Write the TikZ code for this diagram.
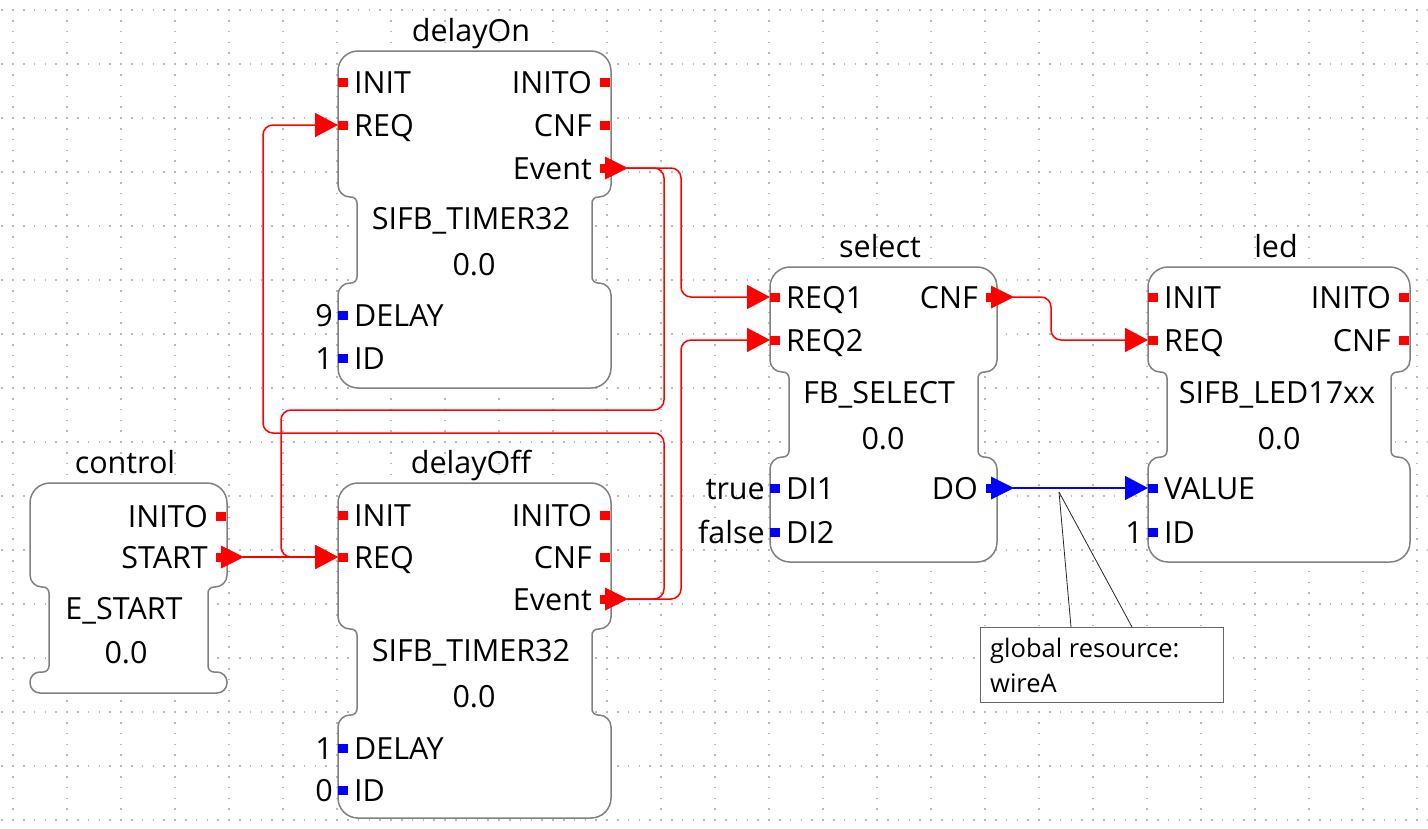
\documentclass[tikz,border=0pt]{standalone}
\usepackage{fontspec}
\setmainfont{Open Sans}
\usetikzlibrary{arrows.meta,calc}
\tikzset{
  fbbox/.style={draw=black!50, line width=1.5pt, fill=white},
  portsq/.style={rectangle, inner sep=0pt, minimum width=10pt, minimum height=9pt, draw=none},
  lbl/.style={inner sep=0pt, text=black, font=\fontsize{30.5}{36}\selectfont},
  notefont/.style={inner sep=0pt, text=black, font=\fontsize{25.5}{30}\selectfont},
  wire/.style={line width=1.5pt, rounded corners=10pt, -{Triangle[length=23pt,width=24pt]}},
  evwire/.style={wire, draw=red},
  datawire/.style={wire, draw=blue},
  griddot/.style={draw=black!28, line width=1.6pt, dash pattern=on 1.6pt off 9.2pt},
  notebox/.style={draw=black!60, line width=1.2pt, fill=white, inner sep=0pt, rectangle},
  pointer/.style={draw=black!85, line width=0.8pt},
}
% L R T Ub Lt B bottomradius lowerconvexradius
\newcommand{\fbblock}[8]{%
  \pgfmathsetmacro\fbL{#1}\pgfmathsetmacro\fbR{#2}\pgfmathsetmacro\fbT{#3}%
  \pgfmathsetmacro\fbU{#4}\pgfmathsetmacro\fbV{#5}\pgfmathsetmacro\fbB{#6}%
  \pgfmathsetmacro\fbb{#7}\pgfmathsetmacro\fbl{#8}%
  \pgfmathsetmacro\fbLn{#1+19}\pgfmathsetmacro\fbRn{#2-19}%
  \draw[fbbox] (\fbLn,{(\fbU+\fbV)/2})
    -- (\fbLn,{\fbU+6}) .. controls (\fbLn,{\fbU+6*0.448}) and ({\fbLn-6*0.448},\fbU) .. ({\fbLn-6},\fbU)
    -- ({\fbL+12},\fbU) .. controls ({\fbL+12*0.448},\fbU) and (\fbL,{\fbU-12*0.448}) .. (\fbL,{\fbU-12})
    -- (\fbL,{\fbT+20}) .. controls (\fbL,{\fbT+20*0.448}) and ({\fbL+20*0.448},\fbT) .. ({\fbL+20},\fbT)
    -- ({\fbR-20},\fbT) .. controls ({\fbR-20*0.448},\fbT) and (\fbR,{\fbT+20*0.448}) .. (\fbR,{\fbT+20})
    -- (\fbR,{\fbU-12}) .. controls (\fbR,{\fbU-12*0.448}) and ({\fbR-12*0.448},\fbU) .. ({\fbR-12},\fbU)
    -- ({\fbRn+6},\fbU) .. controls ({\fbRn+6*0.448},\fbU) and (\fbRn,{\fbU+6*0.448}) .. (\fbRn,{\fbU+6})
    -- (\fbRn,{\fbV-6}) .. controls (\fbRn,{\fbV-6*0.448}) and ({\fbRn+6*0.448},\fbV) .. ({\fbRn+6},\fbV)
    -- ({\fbR-\fbl},\fbV) .. controls ({\fbR-\fbl*0.448},\fbV) and (\fbR,{\fbV+\fbl*0.448}) .. (\fbR,{\fbV+\fbl})
    -- (\fbR,{\fbB-\fbb}) .. controls (\fbR,{\fbB-\fbb*0.448}) and ({\fbR-\fbb*0.448},\fbB) .. ({\fbR-\fbb},\fbB)
    -- ({\fbL+\fbb},\fbB) .. controls ({\fbL+\fbb*0.448},\fbB) and (\fbL,{\fbB-\fbb*0.448}) .. (\fbL,{\fbB-\fbb})
    -- (\fbL,{\fbV+\fbl}) .. controls (\fbL,{\fbV+\fbl*0.448}) and ({\fbL+\fbl*0.448},\fbV) .. ({\fbL+\fbl},\fbV)
    -- ({\fbLn-6},\fbV) .. controls ({\fbLn-6*0.448},\fbV) and (\fbLn,{\fbV-6*0.448}) .. (\fbLn,{\fbV-6})
    -- cycle;
}
% prefix, port name, L, y, colour
\newcommand{\fbin}[5]{%
  \node[portsq, fill=#5, anchor=west] (#1-#2) at (#3,#4) {};
  \node[lbl, anchor=base west] (#1-#2-l) at ({#3+16},{#4+11}) {#2};
}
\newcommand{\fbout}[5]{%
  \node[portsq, fill=#5, anchor=east] (#1-#2) at ({#3-1},#4) {};
  \node[lbl, anchor=base east] (#1-#2-l) at ({#3-19},{#4+11}) {#2};
}
% port node, colour
\newcommand{\fbarr}[2]{%
  \fill[#2] ($(#1.east)+(-5,-11.5)$) -- ++(23,11.5) -- ++(-23,11.5) -- cycle;
  \coordinate (#1-t) at ($(#1.east)+(17,0)$);
}
% name, value, L, y
\newcommand{\fbval}[4]{%
  \node[lbl, anchor=base east] (#1-v) at ({#3-5},{#4+11}) {#2};
}
\begin{document}
\begin{tikzpicture}[x=1pt,y=-1pt]
\useasboundingbox (0,0) rectangle (1428,828);
\fill[white] (0,0) rectangle (1428,828);
% grid
\foreach \i in {0,...,26} { \draw[griddot] ({13+54*\i},-1.6) -- ({13+54*\i},830); }
\foreach \j in {0,...,15} { \draw[griddot] (1.4,{10+54*\j}) -- (1430,{10+54*\j}); }

% blocks
\fbblock{338}{611}{51}{197}{283}{388}{20}{12}
\fbblock{338}{611}{483}{629}{715}{818}{20}{12}
\fbblock{30}{227}{483}{587}{672}{693}{10}{10}
\fbblock{770}{997}{267}{372}{457}{562}{20}{12}
\fbblock{1148}{1410}{267}{372}{457}{562}{20}{12}

% names, types, versions
\node[lbl, anchor=base] (dOn-name) at (471,41) {delayOn};
\node[lbl, anchor=base] (dOn-type) at (471,229) {SIFB\_TIMER32};
\node[lbl, anchor=base] (dOn-ver) at (474,275) {0.0};
\node[lbl, anchor=base] (dOff-name) at (471,473) {delayOff};
\node[lbl, anchor=base] (dOff-type) at (471,661) {SIFB\_TIMER32};
\node[lbl, anchor=base] (dOff-ver) at (474,707) {0.0};
\node[lbl, anchor=base] (ctrl-name) at (125,473) {control};
\node[lbl, anchor=base] (ctrl-type) at (124,619) {E\_START};
\node[lbl, anchor=base] (ctrl-ver) at (126,663) {0.0};
\node[lbl, anchor=base] (sel-name) at (880,257) {select};
\node[lbl, anchor=base] (sel-type) at (879,403) {FB\_SELECT};
\node[lbl, anchor=base] (sel-ver) at (883,449) {0.0};
\node[lbl, anchor=base] (led-name) at (1276,257) {led};
\node[lbl, anchor=base] (led-type) at (1277,403) {SIFB\_LED17xx};
\node[lbl, anchor=base] (led-ver) at (1279,449) {0.0};

% ports delayOn
\fbin{dOn}{INIT}{338}{82}{red}
\fbin{dOn}{REQ}{338}{125}{red}
\fbout{dOn}{INITO}{611}{82}{red}
\fbout{dOn}{CNF}{611}{125}{red}
\fbout{dOn}{Event}{611}{168}{red}
\fbin{dOn}{DELAY}{338}{315}{blue}
\fbin{dOn}{ID}{338}{358}{blue}
\fbval{dOn-DELAY}{9}{338}{315}
\fbval{dOn-ID}{1}{338}{358}
% ports delayOff
\fbin{dOff}{INIT}{338}{515}{red}
\fbin{dOff}{REQ}{338}{557}{red}
\fbout{dOff}{INITO}{611}{515}{red}
\fbout{dOff}{CNF}{611}{557}{red}
\fbout{dOff}{Event}{611}{599}{red}
\fbin{dOff}{DELAY}{338}{748}{blue}
\fbin{dOff}{ID}{338}{790}{blue}
\fbval{dOff-DELAY}{1}{338}{748}
\fbval{dOff-ID}{0}{338}{790}
% ports control
\fbout{ctrl}{INITO}{227}{516}{red}
\fbout{ctrl}{START}{227}{557}{red}
% ports select
\fbin{sel}{REQ1}{770}{297}{red}
\fbin{sel}{REQ2}{770}{340}{red}
\fbout{sel}{CNF}{997}{297}{red}
\fbin{sel}{DI1}{770}{488}{blue}
\fbin{sel}{DI2}{770}{532}{blue}
\fbout{sel}{DO}{997}{488}{blue}
\fbval{sel-DI1}{true}{770}{488}
\fbval{sel-DI2}{false}{770}{532}
% ports led
\fbin{led}{INIT}{1148}{297}{red}
\fbin{led}{REQ}{1148}{340}{red}
\fbout{led}{INITO}{1410}{297}{red}
\fbout{led}{CNF}{1410}{340}{red}
\fbin{led}{VALUE}{1148}{488}{blue}
\fbin{led}{ID}{1148}{532}{blue}
\fbval{led-ID}{1}{1148}{532}

% output arrowheads
\fbarr{dOn-Event}{red}
\fbarr{dOff-Event}{red}
\fbarr{ctrl-START}{red}
\fbarr{sel-CNF}{red}
\fbarr{sel-DO}{blue}

% connections
\draw[evwire] (dOn-Event-t) -| (664,410) -| (281,557) -- (dOff-REQ.west);
\draw[evwire] (dOff-Event-t) -| (664,433) -| (263,125) -- (dOn-REQ.west);
\draw[evwire] (dOn-Event-t) -| (681,297) -- (sel-REQ1.west);
\draw[evwire] (dOff-Event-t) -| (681,340) -- (sel-REQ2.west);
\draw[evwire] (ctrl-START-t) -- (dOff-REQ.west);
\draw[evwire] (sel-CNF-t) -| (1051,340) -- (led-REQ.west);
\draw[datawire] (sel-DO-t) -- (led-VALUE.west);

% comment
\coordinate (note-pt) at (1059,492);
\draw[pointer] (note-pt) -- (1071,627);
\draw[pointer] (note-pt) -- (1132,627);
\node[notebox, anchor=north west, minimum width=243pt, minimum height=75pt] (note) at (980,627) {};
\node[notefont, anchor=base west] (note-l1) at (990,657) {global resource:};
\node[notefont, anchor=base west] (note-l2) at (990,692) {wireA};
\end{tikzpicture}
\end{document}
